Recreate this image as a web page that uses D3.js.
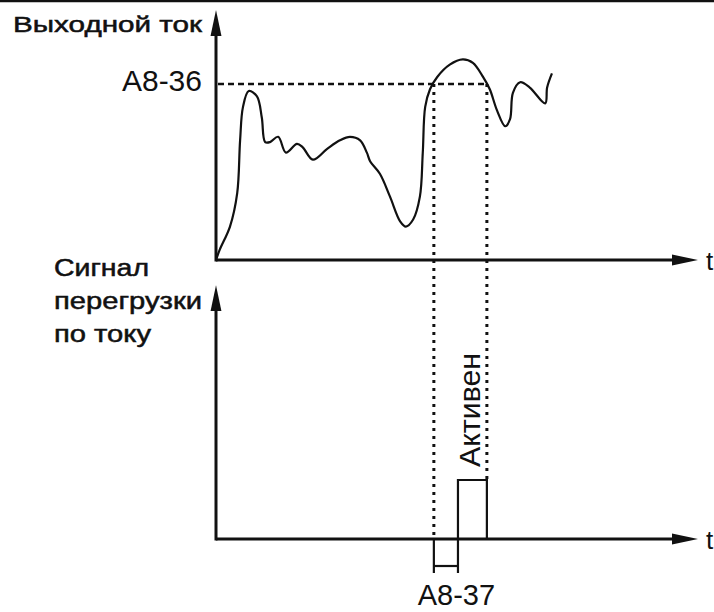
<!DOCTYPE html>
<html>
<head>
<meta charset="utf-8">
<script src="https://cdn.jsdelivr.net/npm/d3@7"></script>
<style>
    body { margin: 0; background: #fff; }
    text { font-family: "Liberation Sans", Arial, sans-serif; fill: #111; }
    text.heavy { stroke: #111; stroke-width: 0.5px; }
</style>
</head>
<body>
<div id="chart"></div>
<script>
// output current curve (t in arbitrary units, current in % of A8-36 level)
var timeCurrent = [0, 0.08, 0.29, 0.44, 0.50, 0.56, 0.68, 0.85, 0.95, 1.02, 1.12, 1.29, 1.45, 1.68, 1.80,
    2.01, 2.30, 2.57, 2.78, 2.99, 3.13, 3.20, 3.40, 3.61, 3.82, 3.94, 4.09, 4.23, 4.29, 4.34, 4.44,
    4.59, 4.85, 5.12, 5.33, 5.54, 5.68, 5.83, 6.00, 6.10, 6.16, 6.31, 6.51, 6.83, 6.87, 6.97];
var currentPct = [0, 6, 19, 38, 68, 87, 96, 93, 81, 67, 67, 70, 61, 66, 64,
    57, 63, 68, 70, 68, 61, 56, 49, 36, 22, 19, 23, 36, 61, 87, 97,
    104, 111, 114, 112, 104, 97, 85, 76, 80, 95, 101, 98, 89, 98, 106];

// A8-36 overload level, A8-37 delay
var thresholdPct = 100;
var overloadStart = 4.52;   // current crosses A8-36
var overloadEnd = 5.62;     // current drops below A8-36
var signalOn = 5.02;        // overload signal active after A8-37 delay
var pulseTime = [signalOn, signalOn, overloadEnd, overloadEnd];
var pulseLevel = [0, 1, 1, 0];

var labels = {
    current: "Выходной ток",
    signal: ["Сигнал", "перегрузки", "по току"],
    level: "A8-36",
    delay: "A8-37",
    active: "Активен",
    t: "t"
};

var width = 714, height = 612;

var svg = d3.select("#chart").append("svg")
    .attr("width", width)
    .attr("height", height);

// top frame line
svg.append("line")
    .attr("x1", 0).attr("x2", width)
    .attr("y1", 1).attr("y2", 1)
    .style("stroke", "#111")
    .style("stroke-width", 2.5);

var x = d3.scaleLinear().domain([0, 10]).range([216, 698]);
var yTop = d3.scaleLinear().domain([0, 100]).range([260, 84]);
var yBot = d3.scaleLinear().domain([0, 1]).range([539, 480]);

// arrow heads
var defs = svg.append("defs");
defs.append("marker")
    .attr("id", "arrow")
    .attr("viewBox", "0 -7 28 14")
    .attr("refX", 16)
    .attr("refY", 0)
    .attr("markerWidth", 28)
    .attr("markerHeight", 14)
    .attr("markerUnits", "userSpaceOnUse")
    .attr("orient", "auto")
    .append("path")
    .attr("d", "M0,-5.5 L26,0 L0,5.5 Z")
    .style("fill", "#111");

function axisPair(yScale, topValue) {
    var x0 = x(0), y0 = yScale(0);
    svg.append("line")
        .attr("x1", x0).attr("y1", y0)
        .attr("x2", x(10) - 10).attr("y2", y0)
        .style("stroke", "#111").style("stroke-width", 3)
        .attr("marker-end", "url(#arrow)");
    svg.append("line")
        .attr("x1", x0).attr("y1", y0 + 1.5)
        .attr("x2", x0).attr("y2", yScale(topValue) + 10)
        .style("stroke", "#111").style("stroke-width", 3)
        .attr("marker-end", "url(#arrow)");
    svg.append("text")
        .attr("x", x(10) + 8)
        .attr("y", y0 + 10)
        .style("font-size", "26px")
        .text(labels.t);
}

axisPair(yTop, 142);
axisPair(yBot, 4.3);

// A8-36 dashed level
svg.append("line")
    .attr("x1", x(0) + 2).attr("x2", x(overloadEnd))
    .attr("y1", yTop(thresholdPct)).attr("y2", yTop(thresholdPct))
    .style("stroke", "#111")
    .style("stroke-width", 2.5)
    .style("stroke-dasharray", "6,4");

// dotted drop lines
svg.append("line")
    .attr("x1", x(overloadStart)).attr("x2", x(overloadStart))
    .attr("y1", yTop(thresholdPct)).attr("y2", yBot(0))
    .style("stroke", "#111")
    .style("stroke-width", 3)
    .style("stroke-dasharray", "3,5");
svg.append("line")
    .attr("x1", x(overloadEnd)).attr("x2", x(overloadEnd))
    .attr("y1", yTop(thresholdPct)).attr("y2", yBot(1))
    .style("stroke", "#111")
    .style("stroke-width", 3)
    .style("stroke-dasharray", "3,5");

// output current curve
var line = d3.line()
    .x(function (d, i) { return x(timeCurrent[i]); })
    .y(function (d) { return yTop(d); })
    .curve(d3.curveCatmullRom.alpha(0.5));

svg.append("path")
    .attr("d", line(currentPct))
    .style("fill", "none")
    .style("stroke", "#111")
    .style("stroke-width", 2.2);

// overload signal pulse
var stepLine = d3.line()
    .x(function (d, i) { return x(pulseTime[i]); })
    .y(function (d) { return yBot(d); });

svg.append("path")
    .attr("d", stepLine(pulseLevel))
    .style("fill", "none")
    .style("stroke", "#111")
    .style("stroke-width", 2.2);

// A8-37 bracket
[overloadStart, signalOn].forEach(function (t) {
    svg.append("line")
        .attr("x1", x(t)).attr("x2", x(t))
        .attr("y1", yBot(0)).attr("y2", yBot(0) + 34)
        .style("stroke", "#111").style("stroke-width", 2.2);
});
svg.append("line")
    .attr("x1", x(overloadStart)).attr("x2", x(signalOn))
    .attr("y1", yBot(0) + 27).attr("y2", yBot(0) + 27)
    .style("stroke", "#111").style("stroke-width", 2.2);

// texts
svg.append("text")
    .attr("class", "heavy")
    .attr("x", 13).attr("y", 32)
    .attr("textLength", 189)
    .attr("lengthAdjust", "spacingAndGlyphs")
    .style("font-size", "22px")
    .text(labels.current);

var sigWidths = [95, 148, 97];
labels.signal.forEach(function (s, i) {
    svg.append("text")
        .attr("class", "heavy")
        .attr("x", 54).attr("y", 276 + i * 33)
        .attr("textLength", sigWidths[i])
        .attr("lengthAdjust", "spacingAndGlyphs")
        .style("font-size", "23px")
        .text(s);
});

svg.append("text")
    .attr("x", 202).attr("y", 91)
    .attr("text-anchor", "end")
    .style("font-size", "30px")
    .text(labels.level);

svg.append("text")
    .attr("x", (x(overloadStart) + x(overloadEnd)) / 2 - 4)
    .attr("y", 605)
    .attr("text-anchor", "middle")
    .style("font-size", "29px")
    .text(labels.delay);

svg.append("text")
    .attr("transform", "translate(" + (x(overloadEnd) - 7) + "," + (yBot(1) - 13) + ") rotate(-90)")
    .attr("textLength", 114)
    .attr("lengthAdjust", "spacingAndGlyphs")
    .style("font-size", "30px")
    .text(labels.active);
</script>
</body>
</html>
